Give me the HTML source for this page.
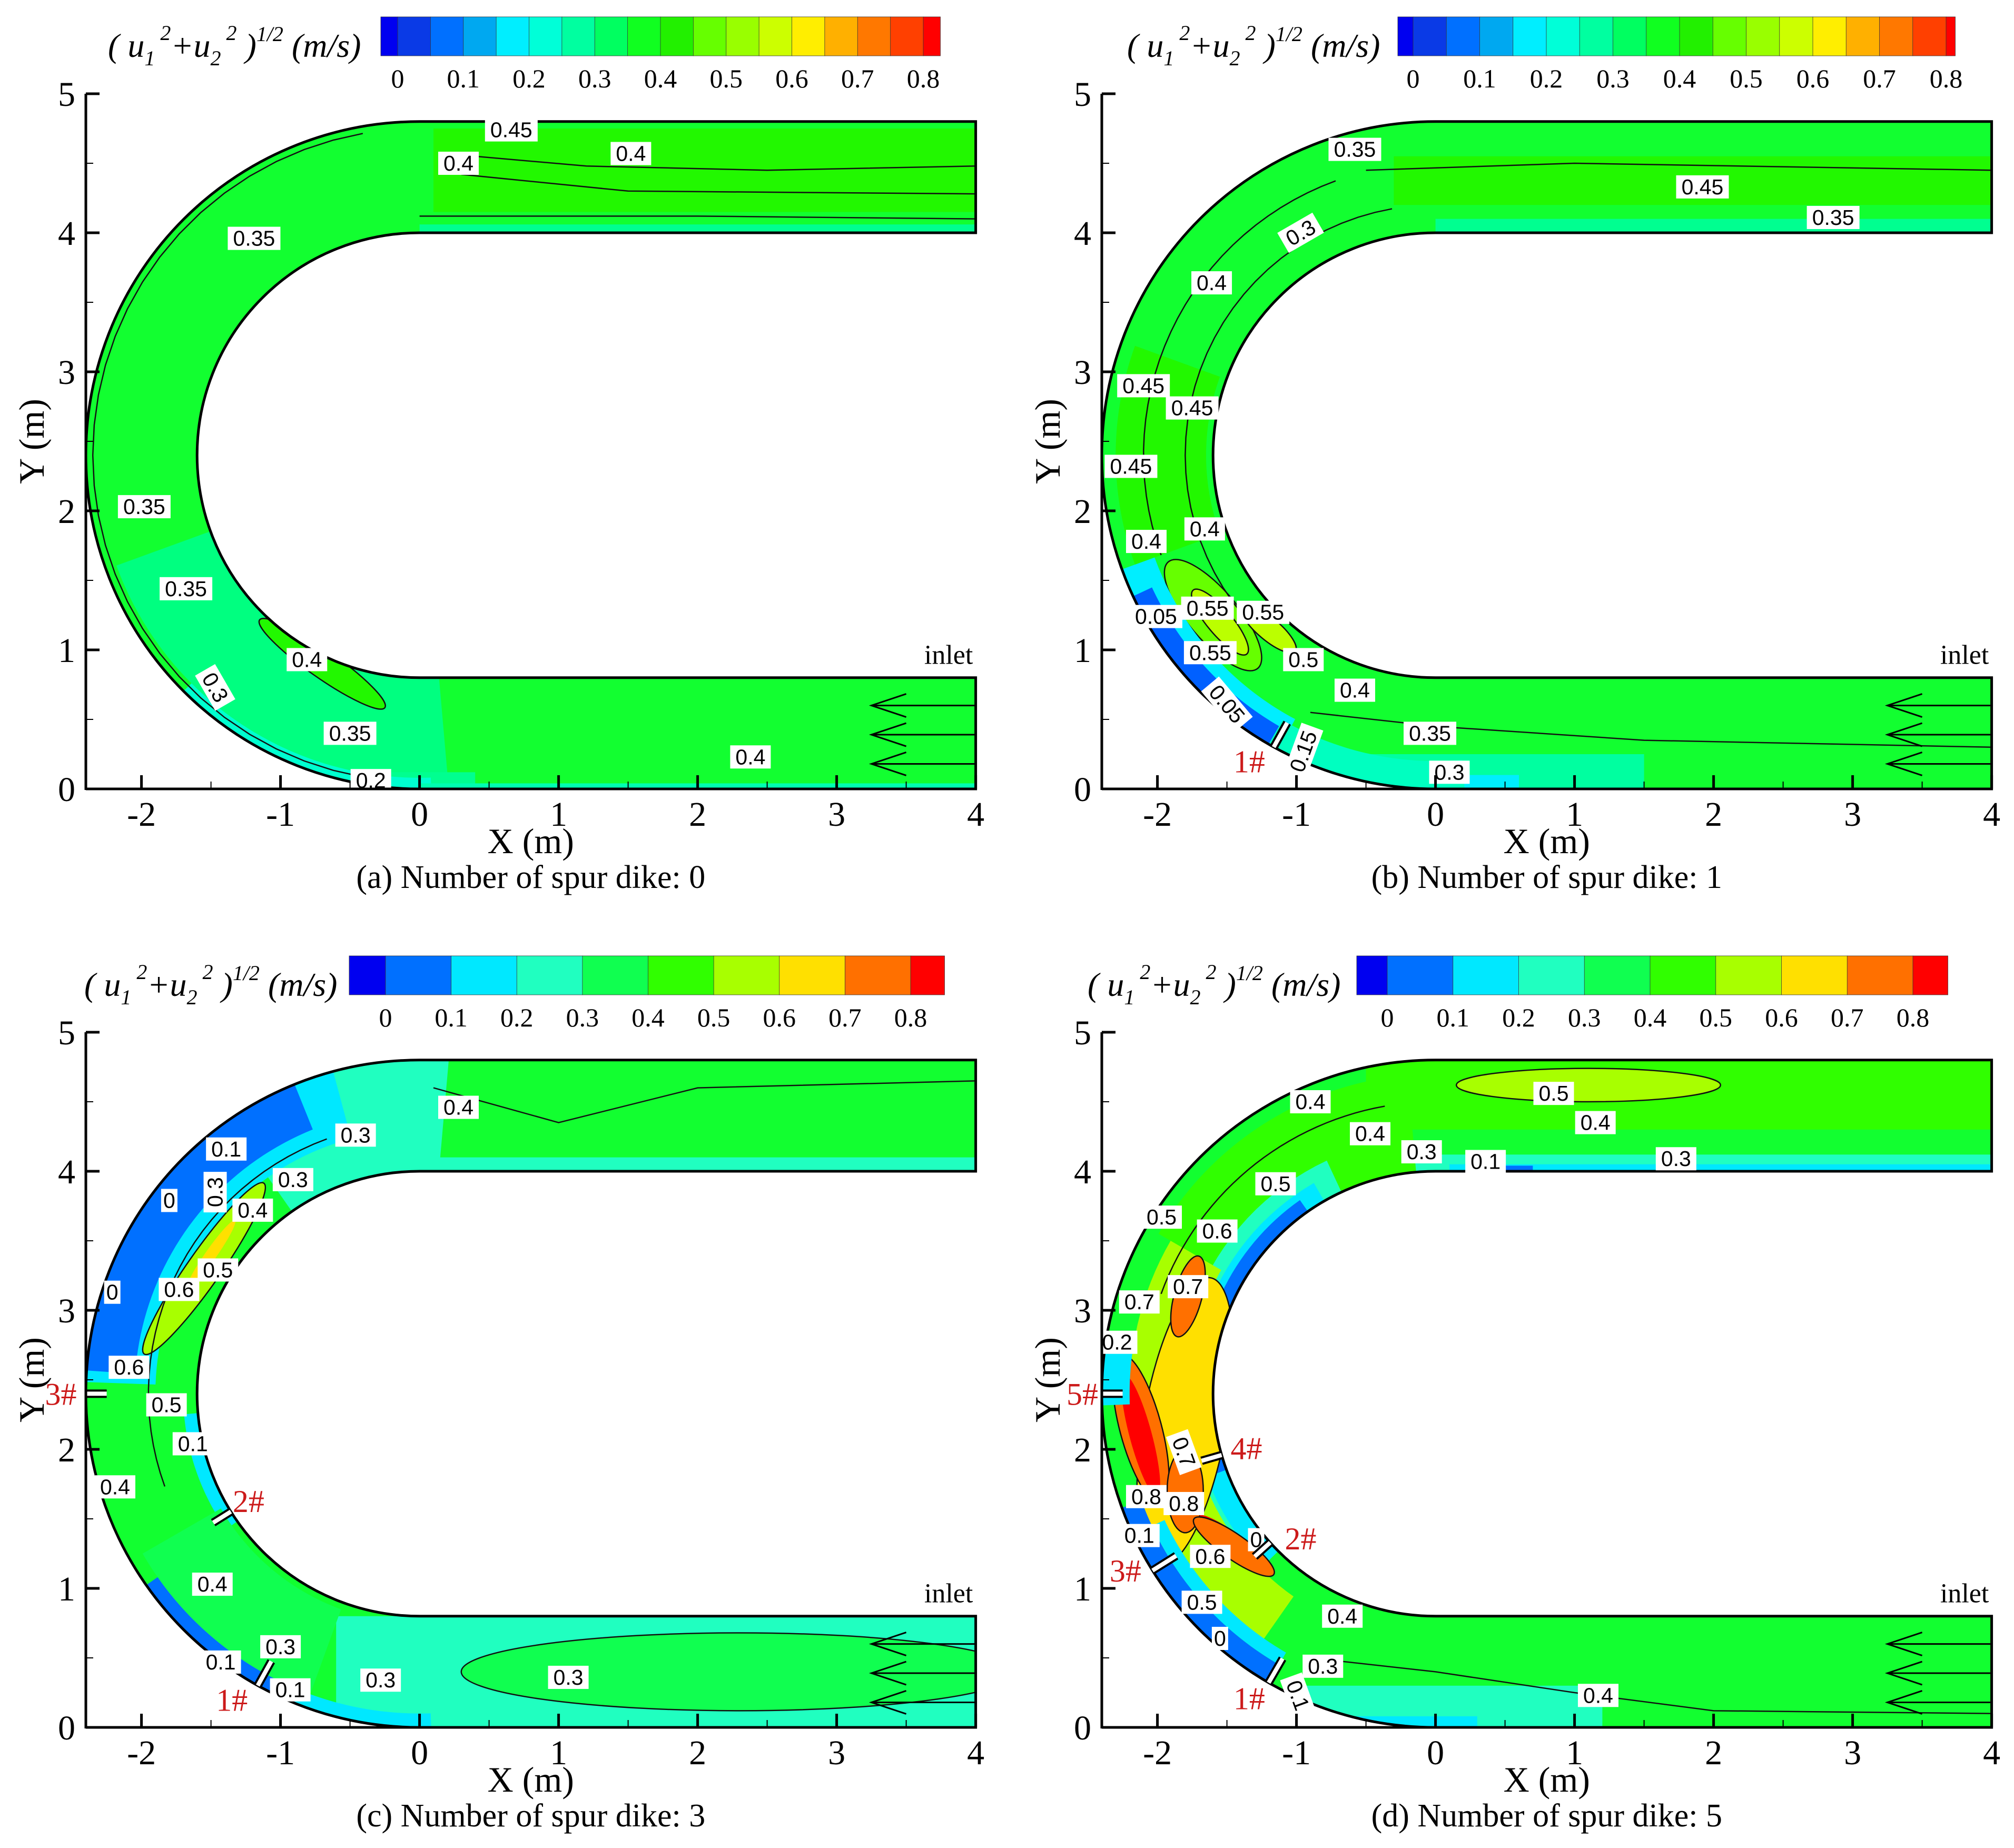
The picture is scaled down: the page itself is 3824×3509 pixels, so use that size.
<!DOCTYPE html>
<html><head><meta charset="utf-8"><style>
html,body{margin:0;padding:0;background:#fff;}
svg{display:block;}
</style></head><body>
<svg id="fig" xmlns="http://www.w3.org/2000/svg" width="3824" height="3509" viewBox="0 0 3824 3509"></svg>
<script>
// ---------- data ----------
const xTicks = [-2,-1,0,1,2,3,4];
const yTicks = [0,1,2,3,4,5];
const cbTicks = ['0','0.1','0.2','0.3','0.4','0.5','0.6','0.7','0.8'];
const cbFineColors = ['#0000f0','#0a3ae6','#0070ff','#00a8f0','#00eeff','#00ffd8','#00ffa0','#00ff60','#10ff20','#22f000','#66ff00','#99ff00','#ccff00','#ffee00','#ffb000','#ff7800','#ff4000','#ff0000'];
const cbCoarseColors = ['#0000f0','#0070ff','#00e8ff','#20ffc0','#10ff50','#30ff00','#a8ff00','#ffe000','#ff7000','#ff0000'];
const panelA_labels = [['0.45',0.66,4.74,0],['0.4',0.28,4.50,0],['0.4',1.52,4.57,0],['0.35',-1.19,3.96,0],['0.35',-1.98,2.03,0],['0.35',-1.68,1.44,0],['0.4',-0.81,0.93,0],['0.3',-1.47,0.73,60],['0.35',-0.5,0.40,0],['0.4',2.38,0.23,0],['0.2',-0.35,0.06,0]];
const panelB_labels = [['0.35',-0.58,4.60,0],['0.45',1.92,4.33,0],['0.35',2.86,4.11,0],['0.3',-0.97,4.0,-30],['0.4',-1.61,3.64,0],['0.45',-2.10,2.90,0],['0.45',-1.75,2.74,0],['0.45',-2.19,2.32,0],['0.4',-1.66,1.87,0],['0.4',-2.08,1.78,0],['0.55',-1.64,1.30,0],['0.55',-1.24,1.27,0],['0.05',-2.01,1.24,0],['0.55',-1.62,0.98,0],['0.5',-0.95,0.93,0],['0.4',-0.58,0.71,0],['0.05',-1.5,0.61,50],['0.15',-0.95,0.27,-70],['0.35',-0.04,0.40,0],['0.3',0.10,0.12,0]];
const panelC_labels = [['0.4',0.28,4.46,0],['0.3',-0.46,4.26,0],['0.1',-1.39,4.16,0],['0',-1.80,3.79,0],['0.3',-1.47,3.85,-90],['0.3',-0.91,3.94,0],['0.4',-1.20,3.72,0],['0.5',-1.45,3.29,0],['0.6',-1.73,3.15,0],['0',-2.21,3.13,0],['0.6',-2.09,2.59,0],['0.5',-1.82,2.32,0],['0.1',-1.63,2.04,0],['0.4',-2.19,1.73,0],['0.4',-1.49,1.03,0],['0.3',-1.00,0.58,0],['0.1',-1.43,0.47,0],['0.1',-0.93,0.27,0],['0.3',-0.28,0.34,0],['0.3',1.07,0.36,0]];
const panelD_labels = [['0.5',0.85,4.56,0],['0.4',-0.90,4.50,0],['0.4',-0.47,4.27,0],['0.4',1.15,4.35,0],['0.3',-0.10,4.14,0],['0.1',0.36,4.07,0],['0.3',1.73,4.09,0],['0.5',-1.15,3.91,0],['0.5',-1.97,3.67,0],['0.6',-1.57,3.57,0],['0.7',-2.13,3.06,0],['0.7',-1.78,3.17,0],['0.2',-2.29,2.77,0],['0.7',-1.81,1.98,70],['0.8',-2.08,1.66,0],['0.8',-1.81,1.61,0],['0.1',-2.13,1.38,0],['0',-1.29,1.35,0],['0.6',-1.62,1.23,0],['0.5',-1.68,0.90,0],['0.4',-0.67,0.80,0],['0',-1.55,0.64,0],['0.3',-0.81,0.44,0],['0.1',-0.99,0.23,70],['0.4',1.17,0.23,0]];
// dikes: [name, start radius, angle(deg), length, labelX, labelY]
const panelA_dikes = [];
const panelB_dikes = [['1',2.2,241,0.2,-1.34,0.12]];
const panelC_dikes = [['1',2.2,241,0.2,-1.35,0.12],['2',1.6,212,0.15,-1.23,1.55],['3',2.25,180,0.15,-2.58,2.32]];
const panelD_dikes = [['1',2.2,240,0.2,-1.34,0.13],['2',1.6,222,0.15,-0.97,1.28],['3',2.2,212,0.2,-2.23,1.05],['4',1.6,196,0.15,-1.36,1.93],['5',2.25,180,0.15,-2.54,2.32]];

// ---------- helpers ----------
const NS='http://www.w3.org/2000/svg';
const svg=document.getElementById('fig');
function el(tag,attrs,parent,text){const e=document.createElementNS(NS,tag);for(const k in attrs)e.setAttribute(k,attrs[k]);if(text!==undefined)e.textContent=text;(parent||svg).appendChild(e);return e;}
const U=264;
function mk(x0,y0){return {X:x=>x0+(x+2.4)*U,Y:y=>y0-y*U};}
function polar(P,r,a){const t=a*Math.PI/180;return [P.X(r*Math.cos(t)),P.Y(2.4+r*Math.sin(t))];}
function channelPath(P){
  const R2=2.4*U,R1=1.6*U;
  return `M${P.X(4)},${P.Y(4.8)} L${P.X(0)},${P.Y(4.8)} A${R2},${R2} 0 0 0 ${P.X(-2.4)},${P.Y(2.4)} A${R2},${R2} 0 0 0 ${P.X(0)},${P.Y(0)} L${P.X(4)},${P.Y(0)} L${P.X(4)},${P.Y(0.8)} L${P.X(0)},${P.Y(0.8)} A${R1},${R1} 0 0 1 ${P.X(-1.6)},${P.Y(2.4)} A${R1},${R1} 0 0 1 ${P.X(0)},${P.Y(4.0)} L${P.X(4)},${P.Y(4.0)} Z`;
}
function ann(g,P,r1,r2,a1,a2,c){let pts=[];const n=40;for(let i=0;i<=n;i++)pts.push(polar(P,r2,a1+(a2-a1)*i/n));for(let i=n;i>=0;i--)pts.push(polar(P,r1,a1+(a2-a1)*i/n));
  const e=el('polygon',{points:pts.map(p=>p.join(',')).join(' '),fill:c},g);
  
  }
function rect(g,P,x1,y1,x2,y2,c){const e=el('rect',{x:P.X(x1),y:P.Y(y2),width:(x2-x1)*U,height:(y2-y1)*U,fill:c},g);
  
  }
function blob(g,P,cx,cy,rx,ry,rot,c,stroke){const e=el('ellipse',{cx:P.X(cx),cy:P.Y(cy),rx:rx*U,ry:ry*U,fill:c,transform:`rotate(${-rot} ${P.X(cx)} ${P.Y(cy)})`},g);
  if(stroke){e.setAttribute('stroke','#111');e.setAttribute('stroke-width','2.5');}
  
  }
function cline(g,P,pts){const d=pts.map((p,i)=>(i?'L':'M')+P.X(p[0])+','+P.Y(p[1])).join(' ');const e=el('path',{d:d,fill:'none',stroke:'#111','stroke-width':2.5},g);
  
  }
function arcLine(g,P,r,a1,a2){let pts=[];for(let i=0;i<=30;i++)pts.push(polar(P,r,a1+(a2-a1)*i/30));const e=el('polyline',{points:pts.map(p=>p.join(',')).join(' '),fill:'none',stroke:'#111','stroke-width':2.5},g);
  
  }

function panel(id,x0,y0,base,caption,cbX1,cbX2,cbLab0,cbLab8,cbY,colors,fineFlag,titleX,labels,dikes,painter){
  const P=mk(x0,y0);
  const grp=el('g',{},svg);
  const cp=el('clipPath',{id:'clip'+id},grp);el('path',{d:channelPath(P),'fill-rule':'evenodd'},cp);
  const field=el('g',{'clip-path':`url(#clip${id})`},grp);
  
  
  el('path',{d:channelPath(P),fill:base,'fill-rule':'evenodd'},field);
  painter(field,P);
  const outline=el('path',{d:channelPath(P),fill:'none',stroke:'#000','stroke-width':5,'fill-rule':'evenodd'},grp);
  
  
  labels.forEach(l=>{const x=P.X(l[1]),y=P.Y(l[2]);const g=el('g',{transform:`rotate(${l[3]} ${x} ${y})`},grp);
    
    
    const w=l[0].length*23+8;el('rect',{x:x-w/2,y:y-22,width:w,height:44,fill:'#fff'},g);
    el('text',{x:x,y:y+14,'text-anchor':'middle','font-family':'Liberation Sans, sans-serif','font-size':41,fill:'#000'},g,l[0]);});
  (dikes||[]).forEach(d=>{const a=polar(P,d[1],d[2]),b=polar(P,d[1]+d[3],d[2]);
    const ln=el('line',{x1:a[0],y1:a[1],x2:b[0],y2:b[1],stroke:'#000','stroke-width':16},grp);
    
    
    el('line',{x1:a[0],y1:a[1],x2:b[0],y2:b[1],stroke:'#fff','stroke-width':8},grp);
    const t=el('text',{x:P.X(d[4]),y:P.Y(d[5]),'text-anchor':'middle','font-family':'Liberation Serif, serif','font-size':60,fill:'#cc1a1a'},grp,d[0]+'#');
    
    });
  const it=el('text',{x:P.X(3.98),y:P.Y(0.9),'text-anchor':'end','font-family':'Liberation Serif, serif','font-size':52},grp,'inlet');
  
  
  [0.6,0.39,0.18].forEach(yy=>{const g=el('g',{stroke:'#000','stroke-width':3,fill:'none'},grp);
    
    
    el('line',{x1:P.X(3.25),y1:P.Y(yy),x2:P.X(4),y2:P.Y(yy)},g);
    el('polyline',{points:`${P.X(3.5)},${P.Y(yy)-22} ${P.X(3.25)},${P.Y(yy)} ${P.X(3.5)},${P.Y(yy)+22}`},g);});
  const ax=el('g',{},grp);
  el('line',{x1:P.X(-2.4),y1:P.Y(0),x2:P.X(4),y2:P.Y(0),stroke:'#000','stroke-width':5},ax);
  el('line',{x1:P.X(-2.4),y1:P.Y(0)+2,x2:P.X(-2.4),y2:P.Y(5),stroke:'#000','stroke-width':5},ax);
  for(let v=-2;v<=4.001;v+=0.5){const full=Math.abs(v-Math.round(v))<1e-6;el('line',{x1:P.X(v),y1:P.Y(0),x2:P.X(v),y2:P.Y(0)-(full?26:14),stroke:'#000','stroke-width':full?5:2},ax);}
  for(let v=0;v<=5.001;v+=0.5){const full=Math.abs(v-Math.round(v))<1e-6;el('line',{x1:P.X(-2.4),y1:P.Y(v),x2:P.X(-2.4)+(full?26:14),y2:P.Y(v),stroke:'#000','stroke-width':full?5:2},ax);}
  xTicks.forEach(v=>{const t=el('text',{x:P.X(v),y:P.Y(0)+70,'text-anchor':'middle','font-family':'Liberation Serif, serif','font-size':66},ax,String(v));});
  yTicks.forEach(v=>{const t=el('text',{x:P.X(-2.4)-20,y:P.Y(v)+23,'text-anchor':'end','font-family':'Liberation Serif, serif','font-size':66},ax,String(v));});
  const xt=el('text',{x:P.X(0.8),y:P.Y(0)+122,'text-anchor':'middle','font-family':'Liberation Serif, serif','font-size':68},ax,'X (m)');
  
  const yx=P.X(-2.4)-80,yy=P.Y(2.5);
  const yt=el('text',{x:yx,y:yy,'text-anchor':'middle','font-family':'Liberation Serif, serif','font-size':68,transform:`rotate(-90 ${yx} ${yy})`},ax,'Y (m)');
  
  const cap=el('text',{x:P.X(0.8),y:P.Y(0)+188,'text-anchor':'middle','font-family':'Liberation Serif, serif','font-size':62},grp,caption);
  
  const cb=el('g',{},grp);
  const step=(cbLab8-cbLab0)/(fineFlag?16:8);
  colors.forEach((c,i)=>{let a,b;if(i===0){a=cbX1;b=cbLab0;}else if(i===colors.length-1){a=cbLab8;b=cbX2;}else{a=cbLab0+(i-1)*step;b=a+step;}
    const r=el('rect',{x:a,y:cbY,width:b-a+0.5,height:74,fill:c,stroke:'#333','stroke-width':0.8},cb);
    });
  cbTicks.forEach((t,i)=>{const tx=el('text',{x:cbLab0+i*(cbLab8-cbLab0)/8,y:cbY+134,'text-anchor':'middle','font-family':'Liberation Serif, serif','font-size':50},cb,t);});
  const ttl=el('text',{x:titleX,y:cbY+76,'font-family':'Liberation Serif, serif','font-style':'italic','font-size':64},cb);
  
  ttl.innerHTML='( u<tspan font-size="40" dy="16">1</tspan><tspan font-size="40" dy="-48"> 2</tspan><tspan dy="32">+u</tspan><tspan font-size="40" dy="16">2</tspan><tspan font-size="40" dy="-48"> 2</tspan><tspan dy="32"> )</tspan><tspan font-size="40" dy="-30">1/2</tspan><tspan dy="30"> (m/s)</tspan>';
}

// ---------- panel A ----------
panel('a',163,1498,'#12ff30','(a) Number of spur dike: 0',723,1785,755,1753,32,cbFineColors,true,205,panelA_labels,panelA_dikes,(g,P)=>{
  rect(g,P,0.1,4.15,4,4.75,'#22f800');
  ann(g,P,1.6,2.32,200,275,'#00ff80');
  rect(g,P,-0.5,0,0.4,0.12,'#00ff90');
  ann(g,P,2.32,2.4,225,272,'#00ffd0');
  rect(g,P,0,0,4,0.04,'#00ffb0');
  rect(g,P,0,4.0,4,4.06,'#00ff90');
  blob(g,P,-0.7,0.9,0.55,0.1,-35,'#22f800',true);
  cline(g,P,[[0.4,4.55],[1.2,4.48],[2.5,4.45],[4,4.48]]);
  cline(g,P,[[0.3,4.42],[1.5,4.3],[4,4.28]]);
  cline(g,P,[[0,4.12],[2,4.12],[4,4.1]]);
  arcLine(g,P,2.35,100,260);
});
// ---------- panel B ----------
panel('b',2092,1498,'#12ff30','(b) Number of spur dike: 1',2654,3712,2683,3695,32,cbFineColors,true,2140,panelB_labels,panelB_dikes,(g,P)=>{
  rect(g,P,-0.3,4.2,4,4.55,'#22f800');
  rect(g,P,0,4.0,4,4.1,'#00ff90');
  ann(g,P,1.65,2.3,160,200,'#22f800');
  blob(g,P,-1.6,1.25,0.5,0.18,-50,'#66ff00',true);
  blob(g,P,-1.55,1.2,0.3,0.09,-50,'#bbff00',true);
  blob(g,P,-1.2,1.15,0.25,0.08,-40,'#bbff00',true);
  ann(g,P,2.15,2.4,200,242,'#00eeff');
  ann(g,P,2.25,2.4,205,240,'#0060ff');
  rect(g,P,-1,0,1.5,0.25,'#00ffa0');
  rect(g,P,-1,0,0.6,0.1,'#00eeff');
  ann(g,P,2.2,2.4,240,275,'#00ffc0');
  cline(g,P,[[-0.9,0.55],[0,0.45],[1.5,0.35],[4,0.3]]);
  cline(g,P,[[-0.5,4.45],[1,4.5],[4,4.45]]);
  arcLine(g,P,2.1,110,200);arcLine(g,P,1.8,100,220);
});
// ---------- panel C ----------
panel('c',163,3280,'#12ff30','(c) Number of spur dike: 3',663,1793,732,1729,1815,cbCoarseColors,false,160,panelC_labels,panelC_dikes,(g,P)=>{
  rect(g,P,0,4.0,4,4.1,'#20ffc0');
  ann(g,P,1.6,2.4,85,125,'#20ffc0');
  rect(g,P,-0.6,0,4.1,0.8,'#20ffc0');
  blob(g,P,2.3,0.4,2.0,0.28,0,'#10ff50',true);
  ann(g,P,1.9,2.4,105,178,'#00e8ff');
  ann(g,P,2.05,2.4,112,176,'#0070ff');
  blob(g,P,-1.55,3.3,0.75,0.12,55,'#a8ff00',true);
  blob(g,P,-1.5,3.4,0.3,0.04,55,'#ffe000');
  ann(g,P,1.6,1.7,185,215,'#00e8ff');
  ann(g,P,2.15,2.4,215,245,'#0070ff');
  ann(g,P,2.3,2.4,245,272,'#00e8ff');
  ann(g,P,1.65,2.3,210,250,'#10ff50');
  cline(g,P,[[0.1,4.6],[1,4.35],[2,4.6],[4,4.65]]);
  arcLine(g,P,1.95,110,200);
});
// ---------- panel D ----------
panel('d',2092,3280,'#12ff30','(d) Number of spur dike: 5',2576,3698,2634,3632,1815,cbCoarseColors,false,2065,panelD_labels,panelD_dikes,(g,P)=>{
  rect(g,P,-0.5,4.3,4,4.8,'#30ff00');
  blob(g,P,1.1,4.62,0.95,0.12,0,'#a8ff00',true);
  rect(g,P,-0.2,4.0,4,4.12,'#20ffc0');
  rect(g,P,0.1,4.0,4,4.05,'#00e8ff');
  rect(g,P,0.25,4.0,0.7,4.04,'#0070ff');
  ann(g,P,1.6,2.3,95,150,'#30ff00');
  ann(g,P,1.6,1.85,115,225,'#20ffc0');
  ann(g,P,1.6,1.75,120,225,'#00e8ff');
  ann(g,P,1.6,1.7,125,200,'#0070ff');
  ann(g,P,1.78,2.2,150,235,'#a8ff00');
  blob(g,P,-1.8,2.2,0.3,1.05,-10,'#ffe000',true);
  blob(g,P,-1.78,3.1,0.1,0.3,-15,'#ff7000',true);
  blob(g,P,-2.12,2.15,0.15,0.55,15,'#ff7000',true);
  blob(g,P,-2.12,2.1,0.08,0.45,15,'#ff0000');
  blob(g,P,-1.8,1.7,0.13,0.3,0,'#ff7000',true);
  blob(g,P,-1.45,1.35,0.3,0.05,-35,'#ff0000');
  blob(g,P,-1.45,1.3,0.35,0.09,-35,'#ff7000',true);
  ann(g,P,2.25,2.4,200,240,'#0070ff');
  ann(g,P,2.15,2.25,205,240,'#00e8ff');
  ann(g,P,2.2,2.4,170,182,'#00e8ff');
  rect(g,P,-1,0,1.2,0.3,'#20ffc0');
  rect(g,P,-1,0,0.3,0.08,'#00e8ff');
  cline(g,P,[[-0.9,0.5],[0,0.4],[1,0.25],[2,0.12],[4,0.1]]);
  arcLine(g,P,2.1,100,160);
});
</script>
</body></html>
